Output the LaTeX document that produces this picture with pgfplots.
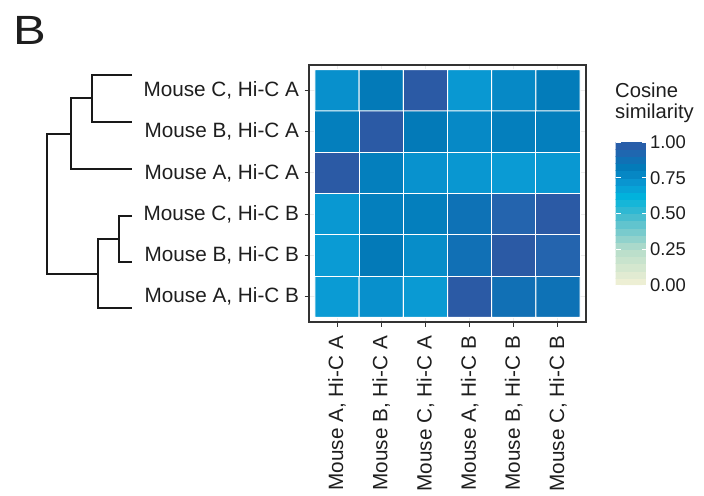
\documentclass[border=0pt]{standalone}
\usepackage{pgfplots}
\pgfplotsset{compat=1.18}
\usepackage{pgfplotstable}
\usepackage{fontspec}
\setmainfont{Liberation Sans}
\definecolor{txt}{RGB}{30,30,30}
\definecolor{framec}{RGB}{51,51,51}
\definecolor{gridc}{RGB}{235,235,235}
\definecolor{dendc}{RGB}{25,25,25}

\pgfplotstableread{
x y c
0 0 0.70
1 0 0.75
2 0 0.705
3 0 1.00
4 0 0.88
5 0 0.87
0 1 0.70
1 1 0.83
2 1 0.76
3 1 0.88
4 1 1.00
5 1 0.94
0 2 0.715
1 2 0.80
2 2 0.80
3 2 0.87
4 2 0.94
5 2 1.00
0 3 1.00
1 3 0.80
2 3 0.74
3 3 0.72
4 3 0.70
5 3 0.715
0 4 0.80
1 4 1.00
2 4 0.83
3 4 0.77
4 4 0.80
5 4 0.80
0 5 0.75
1 5 0.83
2 5 1.00
3 5 0.715
4 5 0.77
5 5 0.82
}\heat

\begin{document}
\begin{tikzpicture}
\useasboundingbox (0bp,0bp) rectangle (704bp,-496bp);

% panel label
\node[anchor=base west, inner sep=0pt, xscale=1.2, font=\fontsize{41}{48}\selectfont, text=txt] at (13bp,-44bp) {B};

% dendrogram (pixel-space overlay axis)
\begin{axis}[at={(0bp,-496bp)}, anchor=south west, scale only axis, width=704bp, height=496bp,
  xmin=0, xmax=704, ymin=0, ymax=496, y dir=reverse, hide axis, clip=false]
\addplot[dendc, line width=1.8bp] coordinates {(132,75) (92,75) (92,122) (132,122)};
\addplot[dendc, line width=1.8bp] coordinates {(92,98) (71,98) (71,169) (132,169)};
\addplot[dendc, line width=1.8bp] coordinates {(132,216) (119,216) (119,262) (132,262)};
\addplot[dendc, line width=1.8bp] coordinates {(119,239) (98,239) (98,308) (132,308)};
\addplot[dendc, line width=1.8bp] coordinates {(71,134) (47,134) (47,274) (98,274)};
\end{axis}

% heatmap
\begin{axis}[at={(309bp,-322bp)}, anchor=south west, scale only axis,
  width=277bp, height=257bp,
  xmin=-0.635, xmax=5.635, ymin=-0.61, ymax=5.61,
  xtick={0,...,5}, ytick={0,...,5},
  xticklabels={{Mouse A, Hi-C A},{Mouse B, Hi-C A},{Mouse C, Hi-C A},{Mouse A, Hi-C B},{Mouse B, Hi-C B},{Mouse C, Hi-C B}},
  yticklabels={{Mouse A, Hi-C B},{Mouse B, Hi-C B},{Mouse C, Hi-C B},{Mouse A, Hi-C A},{Mouse B, Hi-C A},{Mouse C, Hi-C A}},
  xticklabel style={rotate=90, anchor=east, font=\fontsize{20.8}{24}\selectfont, text=txt},
  xticklabel shift=6bp,
  yticklabel style={font=\fontsize{20.8}{24}\selectfont, text=txt},
  yticklabel shift=2bp,
  tick align=outside, major tick length=4.5bp,
  tick style={framec, line width=1.1bp},
  axis line style={framec, line width=1.1bp},
  xtick pos=bottom, ytick pos=left,
  grid=major, major grid style={gridc, line width=1bp},
  colormap={ylgnbu}{rgb255(0cm)=(243,241,213); rgb255(2.5cm)=(182,221,202); rgb255(5cm)=(60,185,208); rgb255(6.2cm)=(0,180,221); rgb255(7cm)=(10,155,212); rgb255(7.5cm)=(8,144,204); rgb255(8cm)=(4,127,189); rgb255(8.3cm)=(3,122,184); rgb255(8.8cm)=(17,112,181); rgb255(9.4cm)=(36,100,174); rgb255(10cm)=(43,90,165)},
  point meta min=0, point meta max=1,
  colorbar, colorbar sampled,
  colorbar style={
    at={(parent axis.south east)}, anchor=south west, xshift=21bp, yshift=37bp,
    scale only axis, width=31bp, height=143bp, samples=21,
    axis lines=box,
    ytick={0,0.25,0.5,0.75,1}, yticklabels={0.00,0.25,0.50,0.75,1.00},
    yticklabel style={font=\fontsize{18.5}{21}\selectfont, text=txt},
    yticklabel pos=right, ytick pos=both,
    tick align=inside, major tick length=5bp,
    tick style={white, line width=1bp},
    axis line style={draw=none},
  },
]
\addplot[matrix plot*, mesh/cols=6, point meta=explicit, draw=white, line width=1bp] table[meta=c] {\heat};
\end{axis}

% legend title
\node[anchor=base west, inner sep=0pt, font=\fontsize{20.3}{24}\selectfont, text=txt] at (615bp,-97bp) {Cosine};
\node[anchor=base west, inner sep=0pt, font=\fontsize{20.3}{24}\selectfont, text=txt] at (615bp,-118bp) {similarity};
\end{tikzpicture}
\end{document}
